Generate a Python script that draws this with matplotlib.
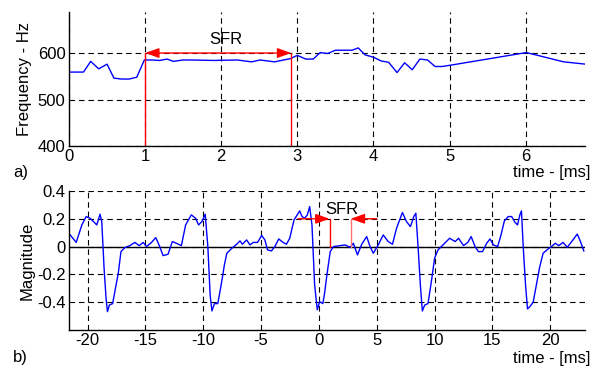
import matplotlib
matplotlib.use('Agg')
import matplotlib.pyplot as plt
from matplotlib.ticker import FormatStrFormatter

plt.rcParams['font.family'] = ['Liberation Sans', 'DejaVu Sans']
plt.rcParams['font.size'] = 12
plt.rcParams['axes.unicode_minus'] = False

# a) frequency track
t_freq = [0, 0.19, 0.285, 0.39, 0.50, 0.59, 0.69, 0.79, 0.89, 0.99, 1.09, 1.19,
          1.29, 1.37, 1.50, 1.61, 1.90, 2.21, 2.40, 2.51, 2.70, 2.91, 3.0, 3.11,
          3.21, 3.30, 3.40, 3.50, 3.61, 3.72, 3.80, 3.89, 4.0, 4.10, 4.20, 4.31,
          4.41, 4.51, 4.61, 4.71, 4.81, 4.90, 5.02, 6.01, 6.50, 6.79]
freq = [559, 559, 582, 566, 576, 546, 544, 544, 548, 585, 585, 584,
        587, 582, 585, 585, 584, 585, 581, 585, 581, 588, 595, 587,
        587, 601, 599, 606, 606, 606, 611, 596, 591, 583, 580, 558,
        579, 564, 587, 585, 571, 571, 574, 601, 581, 576]
sfr_a = [1.0, 2.92]

# b) magnitude signal
t_mag = [-21.5, -20.98, -20.49, -20.12, -19.78, -19.49, -19.2, -18.92, -18.77, -18.57,
         -18.4, -18.28, -18.11, -17.83, -17.63, -17.34, -17.11, -16.77, -16.34, -15.91,
         -15.53, -15.19, -14.9, -14.47, -14.1, -13.76, -13.47, -13.04, -12.67, -12.32,
         -11.89, -11.52, -11.03, -10.66, -10.4, -10.11, -9.83, -9.6, -9.4, -9.25,
         -9.03, -8.74, -8.45, -8.17, -7.96, -7.53, -7.1, -6.82, -6.62, -6.25,
         -5.96, -5.67, -5.3, -4.95, -4.67, -4.44, -4.1, -3.81, -3.47, -3.1,
         -2.81, -2.52, -2.15, -1.66, -1.46, -1.23, -1.0, -0.8, -0.6, -0.37,
         -0.14, 0.06, 0.34, 0.5, 0.69, 0.98, 1.26, 1.84, 2.27, 2.7,
         2.98, 3.33, 3.7, 4.13, 4.42, 4.7, 5.13, 5.56, 5.99, 6.36,
         6.71, 7.22, 7.57, 7.91, 8.2, 8.38, 8.57, 8.77, 8.94, 9.15,
         9.43, 9.72, 10.0, 10.29, 10.72, 11.3, 11.78, 12.07, 12.5, 12.87,
         13.16, 13.5, 13.79, 14.14, 14.5, 14.79, 15.08, 15.45, 15.74, 16.03,
         16.37, 16.66, 16.94, 17.17, 17.37, 17.51, 17.66, 17.86, 18.03, 18.23,
         18.52, 18.8, 19.09, 19.38, 19.81, 20.09, 20.44, 20.73, 21.1, 21.47,
         21.96, 22.33, 22.61, 22.9]
mag = [0.084, 0.03, 0.156, 0.216, 0.204, 0.18, 0.156, 0.233, 0.18, -0.155,
       -0.37, -0.468, -0.42, -0.41, -0.32, -0.19, -0.036, -0.007, 0.007, 0.03,
       0.007, 0.03, 0.0, 0.03, 0.065, 0.0, -0.065, -0.055, 0.036, 0.024,
       0.007, 0.156, 0.228, 0.204, 0.156, 0.18, 0.233, 0.0, -0.35, -0.463,
       -0.41, -0.41, -0.276, -0.132, -0.048, -0.012, 0.017, 0.041, 0.017, 0.048,
       0.012, 0.03, 0.03, 0.08, 0.048, -0.024, -0.031, 0.0, 0.055, 0.03,
       0.017, 0.06, 0.192, 0.257, 0.216, 0.204, 0.228, 0.288, 0.156, -0.276,
       -0.455, -0.396, -0.41, -0.33, -0.204, -0.036, 0.0, 0.007, 0.012, -0.005,
       0.024, -0.06, 0.017, 0.072, 0.0, -0.048, 0.012, 0.084, 0.036, 0.017,
       0.132, 0.245, 0.18, 0.144, 0.216, 0.24, 0.0, -0.276, -0.463, -0.42,
       -0.41, -0.252, -0.084, -0.024, 0.012, 0.06, 0.036, 0.06, 0.007, 0.03,
       0.072, 0.0, -0.036, -0.036, 0.024, 0.055, 0.012, 0.0, 0.084, 0.185,
       0.216, 0.216, 0.175, 0.156, 0.228, 0.257, 0.0, -0.276, -0.448, -0.432,
       -0.4, -0.276, -0.144, -0.048, -0.017, 0.0, 0.024, 0.007, 0.03, -0.005,
       0.048, 0.09, 0.036, -0.031]
sfr_b = [0.92, 2.75]
sfr_b_arrows = [(-1.8, 0.92), (5.0, 2.75)]

fig = plt.figure(figsize=(5.93, 3.67), dpi=100)
ax_a = fig.add_axes([0.1164, 0.6022, 0.8701, 0.3648])
ax_b = fig.add_axes([0.1164, 0.1008, 0.8701, 0.3788])

grid_kw = dict(color='black', linewidth=0.8, linestyle=(0, (5, 3.5)))
arrow_kw = dict(arrowstyle='-|>,head_length=0.7,head_width=0.25', color='red',
                lw=1.0, shrinkA=0, shrinkB=0)

for ax in (ax_a, ax_b):
    for s in ('top', 'right'):
        ax.spines[s].set_visible(False)
    ax.spines['left'].set_linewidth(1.0)
    ax.spines['bottom'].set_linewidth(1.0)
    ax.tick_params(length=0, pad=2.5)
    ax.grid(True, **grid_kw)
    ax.set_axisbelow(True)

# panel a
ax_a.plot(t_freq, freq, color='#0000ff', lw=1.0)
for x in sfr_a:
    ax_a.plot([x, x], [400, 600], color='red', lw=1.0)
ax_a.annotate('', xy=(sfr_a[0], 600), xytext=(sfr_a[1], 600),
              arrowprops=dict(arrow_kw, arrowstyle='<|-|>,head_length=0.7,head_width=0.25'))
ax_a.text(sum(sfr_a) / 2 + 0.1, 630, 'SFR', ha='center', va='center')
ax_a.set_xlim(0, 6.78)
ax_a.set_ylim(400, 688)
ax_a.set_xticks(range(0, 7))
ax_a.set_yticks([400, 500, 600])
ax_a.set_ylabel('Frequency - Hz', labelpad=4)

# panel b
ax_b.axhline(0, color='black', lw=1.0)
ax_b.plot(t_mag, mag, color='#0000ff', lw=1.0)
ax_b.plot([sfr_b[0]] * 2, [0, 0.2], color='red', lw=1.0)
ax_b.plot([sfr_b[1]] * 2, [0, 0.2], color='#ff7070', lw=1.0)
for x0, x1 in sfr_b_arrows:
    ax_b.annotate('', xy=(x1, 0.2), xytext=(x0, 0.2), arrowprops=arrow_kw)
ax_b.text(2.0, 0.27, 'SFR', ha='center', va='center')
ax_b.set_xlim(-21.6, 23)
ax_b.set_ylim(-0.6, 0.4)
ax_b.set_xticks(range(-20, 21, 5))
ax_b.set_yticks([-0.4, -0.2, 0, 0.2, 0.4])
ax_b.yaxis.set_major_formatter(FormatStrFormatter('%g'))
ax_b.set_ylabel('Magnitude', labelpad=2)

fig.text(0.995, 0.529, 'time - [ms]', ha='right', va='center')
fig.text(0.995, 0.024, 'time - [ms]', ha='right', va='center')
fig.text(0.022, 0.529, 'a)', ha='left', va='center')
fig.text(0.022, 0.027, 'b)', ha='left', va='center')

fig.savefig('out.png', dpi=100)
